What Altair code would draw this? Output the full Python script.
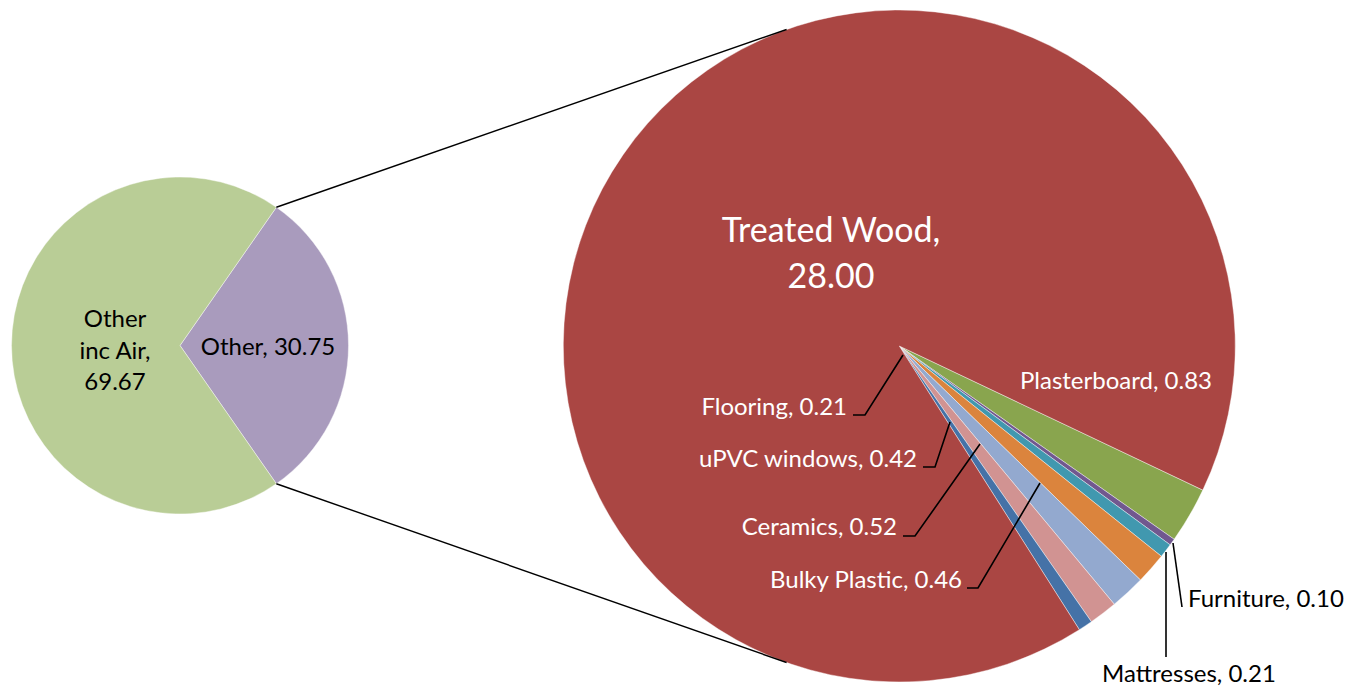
import math
import altair as alt
import pandas as pd

# ---------------- data ----------------
main_names = ["Other", "Other inc Air"]
main_values = [30.75, 69.67]
main_colors = ["#A99BBD", "#B9CD96"]

sub_names = ["Plasterboard", "Furniture", "Mattresses", "Bulky Plastic",
             "Ceramics", "uPVC windows", "Flooring", "Treated Wood"]
sub_values = [0.83, 0.10, 0.21, 0.46, 0.52, 0.42, 0.21, 28.00]
sub_colors = ["#89A54E", "#71588F", "#4198AF", "#DB843D",
              "#93A9CF", "#D19392", "#4572A7", "#AA4643"]

# ---------------- layout (page pixels) ----------------
FONT = "Lato"
LC, LR = (180.0, 345.5), 168.5          # left pie centre / radius
RC, RR = (899.3, 346.0), 336.0          # right pie centre / radius
R_START = math.radians(115.4)           # where the first small slice starts
CONN_ANGLE = math.radians(19.6)         # connector attach angle on right pie

# label layout: x, y (baseline), align, colour, font size, format
label_layout = {
    "Treated Wood": (831, 242, "center", "white", 34, "{n},\n{v}"),
    "Plasterboard": (1020, 389, "left", "white", 24, "{n}, {v}"),
    "Flooring": (847, 415, "right", "white", 24, "{n}, {v}"),
    "uPVC windows": (917, 467, "right", "white", 24, "{n}, {v}"),
    "Ceramics": (897, 535, "right", "white", 24, "{n}, {v}"),
    "Bulky Plastic": (962, 588, "right", "white", 24, "{n}, {v}"),
    "Furniture": (1188, 607, "left", "black", 24, "{n}, {v}"),
    "Mattresses": (1102, 682, "left", "black", 24, "{n}, {v}"),
    "Other inc Air": (115, 327, "center", "black", 24, "Other\ninc Air,\n{v}"),
    "Other": (268, 355, "center", "black", 24, "{n}, {v}"),
}
leader_layout = {
    "Flooring": [(853, 415), (865, 415), (903, 355)],
    "uPVC windows": [(923, 467), (935, 467), (950, 422)],
    "Ceramics": [(903, 536), (915, 536), (980, 444)],
    "Bulky Plastic": [(967, 588), (978, 588), (1040, 483)],
    "Furniture": [(1182, 607), (1173, 543)],
    "Mattresses": [(1166, 657), (1166, 552)],
}

W, H = 1336, 679
xs = alt.Scale(domain=[8, 8 + W], range=[0, W], nice=False, zero=False)
ys = alt.Scale(domain=[8, 8 + H], range=[0, H], nice=False, zero=False)

# ---------------- pies ----------------
left_df = pd.DataFrame({"name": main_names, "value": main_values,
                        "color": main_colors, "ord": range(len(main_names))})
right_df = pd.DataFrame({"name": sub_names, "value": sub_values,
                         "color": sub_colors, "ord": range(len(sub_names))})

ltot = sum(main_values)
rtot = sum(sub_values)
l_start = math.pi / 2 - math.pi * main_values[0] / ltot


def pie(df, total, start, centre, radius):
    return alt.Chart(df).mark_arc(outerRadius=radius, stroke="white",
                                  strokeWidth=0.6, strokeOpacity=0.7).encode(
        theta=alt.Theta("value:Q", stack=True,
                        scale=alt.Scale(domain=[0, total],
                                        range=[start, start + 2 * math.pi])),
        order=alt.Order("ord:Q"),
        color=alt.Color("color:N", scale=None),
        x=alt.value(centre[0] - 8),
        y=alt.value(centre[1] - 8),
    )


left_pie = pie(left_df, ltot, l_start, LC, LR)
right_pie = pie(right_df, rtot, R_START, RC, RR)

# ---------------- connector lines ----------------
l_end = l_start + 2 * math.pi * main_values[0] / ltot
p1 = (LC[0] + LR * math.sin(l_start), LC[1] - LR * math.cos(l_start))
p2 = (LC[0] + LR * math.sin(l_end), LC[1] - LR * math.cos(l_end))
q1 = (RC[0] - RR * math.sin(CONN_ANGLE), RC[1] - RR * math.cos(CONN_ANGLE))
q2 = (RC[0] - RR * math.sin(CONN_ANGLE), RC[1] + RR * math.cos(CONN_ANGLE))
conn_df = pd.DataFrame({"x": [p1[0], p2[0]], "y": [p1[1], p2[1]],
                        "x2": [q1[0], q2[0]], "y2": [q1[1], q2[1]]})
connectors = alt.Chart(conn_df).mark_rule(color="black", strokeWidth=1.4).encode(
    x=alt.X("x:Q", scale=xs, axis=None), y=alt.Y("y:Q", scale=ys, axis=None),
    x2="x2:Q", y2="y2:Q")

# ---------------- leader lines ----------------
rows = []
for name, pts in leader_layout.items():
    for i, (px, py) in enumerate(pts):
        rows.append({"name": name, "i": i, "x": px, "y": py})
lead_df = pd.DataFrame(rows)
leaders = alt.Chart(lead_df).mark_line(color="black", strokeWidth=1.6).encode(
    x=alt.X("x:Q", scale=xs, axis=None), y=alt.Y("y:Q", scale=ys, axis=None),
    detail="name:N", order="i:Q")

# ---------------- labels ----------------
rows = []
for names, values in ((main_names, main_values), (sub_names, sub_values)):
    for n, v in zip(names, values):
        lx, ly, al, col, fs, fmt = label_layout[n]
        rows.append({"label": fmt.format(n=n, v=f"{v:.2f}"), "x": lx, "y": ly,
                     "align": al, "col": col, "fs": fs})
lab_df = pd.DataFrame(rows)

text_layers = []
for al in ("left", "right", "center"):
    sub = lab_df[lab_df["align"] == al]
    for fs in sorted(sub["fs"].unique()):
        d = sub[sub["fs"] == fs]
        lh = 45.5 if fs >= 30 else 31.7
        text_layers.append(
            alt.Chart(d).mark_text(align=al, baseline="alphabetic", font=FONT,
                                   fontSize=int(fs), lineBreak="\n",
                                   lineHeight=lh).encode(
                x=alt.X("x:Q", scale=xs, axis=None),
                y=alt.Y("y:Q", scale=ys, axis=None),
                text="label:N",
                color=alt.Color("col:N", scale=None),
            ))

chart = alt.layer(left_pie, right_pie, connectors, leaders, *text_layers).resolve_scale(
    theta="independent"
).properties(
    width=W, height=H, padding=0, autosize="none", background="white"
).configure_view(strokeWidth=0)

chart.save("out.html", embed_options={"renderer": "svg", "actions": False})
